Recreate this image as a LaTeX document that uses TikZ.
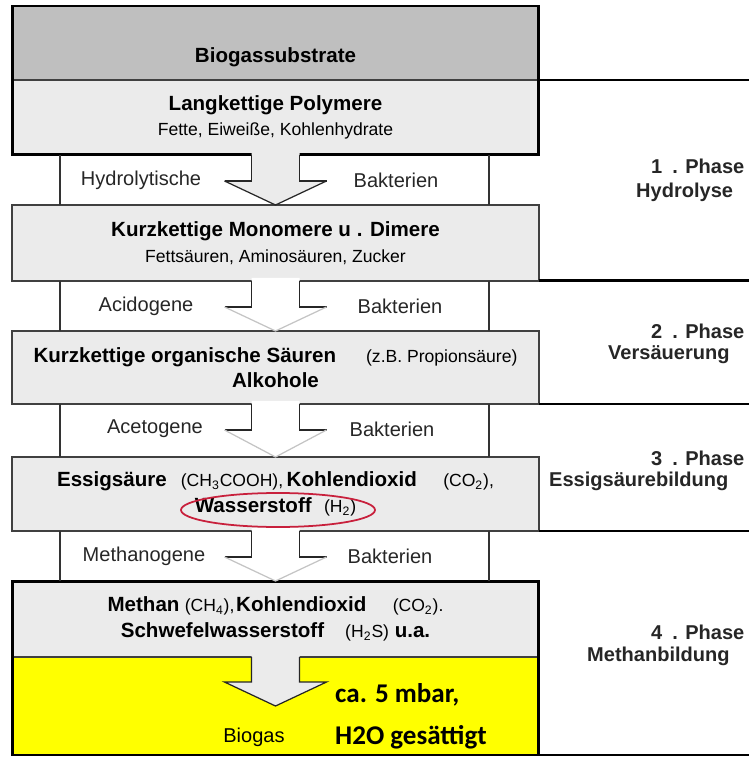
\documentclass[tikz,border=0pt]{standalone}
\usepackage{fontspec}
\setmainfont{Liberation Sans}
\newfontfamily\calfont{Carlito}
\usetikzlibrary{calc}

\definecolor{boxgrau}{HTML}{EBEBEB}
\definecolor{kopfgrau}{HTML}{BFBFBF}
\definecolor{spitzgrau}{HTML}{C4C4C4}
\definecolor{gelb}{HTML}{FFFF00}
\definecolor{ringrot}{HTML}{C8203C}

\newcommand{\gross}{\fontsize{11.7}{14.5}\selectfont\bfseries}
\newcommand{\klein}{\fontsize{10}{14.5}\selectfont\mdseries}

\begin{document}
\begin{tikzpicture}[x=0.02cm,y=-0.02cm,
  stufe/.style={draw=black!75,line width=0.7pt,fill=boxgrau,minimum width=10.54cm,
    inner sep=0pt,outer sep=0pt,align=center,font=\gross},
  rahmen/.style={draw=black,line width=1.7pt},
  bakt/.style={font=\fontsize{11.4}{13}\selectfont,text=black!85},
  phase/.style={font=\fontsize{11.4}{14.5}\selectfont\bfseries,text=black!85,anchor=west}]
  \useasboundingbox (0,0) rectangle (749,759);
  \coordinate (rand) at (749,0);

  % Stufen
  \node[stufe,fill=kopfgrau,minimum height=1.48cm] (subst) at (275.5,43) {};
  \node[font=\gross] (substtxt) at (275.5,57) {Biogassubstrate};
  \node[stufe,minimum height=1.5cm] (poly) at (275.5,117.5)
    {Langkettige Polymere\\\klein Fette, Eiweiße, Kohlenhydrate};
  \node[stufe,minimum height=1.52cm] (mono) at (275.5,243)
    {Kurzkettige Monomere u . Dimere\\\klein Fettsäuren, Aminosäuren, Zucker};
  \node[stufe,minimum height=1.46cm] (saeure) at (275.5,367.5)
    {Kurzkettige organische Säuren\hspace{17pt}\klein(z.B. Propionsäure)\\\gross Alkohole};
  \node[stufe,minimum height=1.48cm] (essig) at (275.5,494)
    {Essigsäure\hspace{8pt}\klein(CH\textsubscript{3}COOH),\gross\hspace{2pt}Kohlendioxid\hspace{15pt}\klein(CO\textsubscript{2}),\\
     \gross Wasserstoff\hspace{7pt}\klein(H\textsubscript{2})};
  \node[stufe,minimum height=1.52cm] (methan) at (275.5,619)
    {Methan\hspace{3pt}\klein(CH\textsubscript{4}),\gross\hspace{1pt}Kohlendioxid\hspace{15pt}\klein(CO\textsubscript{2}).\\
     \gross Schwefelwasserstoff\hspace{12pt}\klein(H\textsubscript{2}S)\gross\ u.a.};
  \node[stufe,fill=gelb,minimum height=1.96cm] (biogas) at (275.5,706) {};
  \draw[rahmen] (subst.north west) rectangle (poly.south east);
  \draw[rahmen] (methan.north west) rectangle (biogas.south east);

  % Pfeile mit Bakterien
  \foreach \o/\u/\f/\d/\lx/\lt/\rx in {poly/mono/boxgrau/black!85/141/Hydrolytische/396,
      mono/saeure/white/spitzgrau/146/Acidogene/400,
      saeure/essig/white/spitzgrau/155/Acetogene/392,
      essig/methan/white/spitzgrau/144/Methanogene/390}{
    \draw[line width=1pt,black!80] ($(\o.south west)+(48,0)$) -- ($(\u.north west)+(48,0)$);
    \draw[line width=0.8pt,black!80] ($(\o.south east)+(-50,0)$) -- ($(\u.north east)+(-50,0)$);
    \fill[\f] ($(\o.south)+(-24,-3)$) -- ($(\o.south)+(-24,26)$) -- ($(\o.south)+(-51,26)$) -- (\u.north)
      -- ($(\o.south)+(51,26)$) -- ($(\o.south)+(24,26)$) -- ($(\o.south)+(24,-3)$) -- cycle;
    \draw[black!85,line width=0.7pt] ($(\o.south)+(-24,0)$) -- ($(\o.south)+(-24,26)$) -- ($(\o.south)+(-51,26)$);
    \draw[black!85,line width=0.7pt] ($(\o.south)+(24,0)$) -- ($(\o.south)+(24,26)$) -- ($(\o.south)+(51,26)$);
    \draw[\d,line width=0.7pt] ($(\o.south)+(-51,26)$) -- (\u.north) -- ($(\o.south)+(51,26)$);
    \node[bakt] (links\o) at ($(\o.south)+(\lx-275.5,25)$) {\lt};
    \node[bakt] (rechts\o) at ($(\o.south)+(\rx-275.5,25)$) {Bakterien};
  }

  % Biogas
  \fill[boxgrau] ($(biogas.north)+(-24,-3)$) -- ($(biogas.north)+(-24,25)$) -- ($(biogas.north)+(-51,25)$)
    -- ($(biogas.north)+(0,49)$) -- ($(biogas.north)+(51,25)$) -- ($(biogas.north)+(24,25)$)
    -- ($(biogas.north)+(24,-3)$) -- cycle;
  \draw[black!85,line width=0.7pt] ($(biogas.north)+(-24,0)$) -- ($(biogas.north)+(-24,25)$) -- ($(biogas.north)+(-51,25)$)
    -- ($(biogas.north)+(0,49)$) -- ($(biogas.north)+(51,25)$) -- ($(biogas.north)+(24,25)$) -- ($(biogas.north)+(24,0)$);
  \node[bakt,text=black] (gastxt) at (254,737) {Biogas};
  \node[font=\calfont\bfseries\fontsize{15.4}{18}\selectfont,anchor=west] (druck) at (329,695) {ca. 5 mbar,};
  \node[font=\calfont\bfseries\fontsize{15.4}{18}\selectfont,anchor=west] (feucht) at (329,737) {H2O gesättigt};

  % Wasserstoff markiert
  \draw[ringrot,line width=1pt] (278,510) ellipse [x radius=97, y radius=17];

  % Phasen rechts
  \foreach \b in {poly.north east,mono.south east,saeure.south east,essig.south east}
    \draw[line width=1.7pt] (\b) -- (\b -| rand);
  \draw[line width=1.2pt] (biogas.south east) -- (biogas.south east -| rand);
  \node[phase] (ph1) at (645,166) {1\enspace. Phase};
  \node[phase] (ph1n) at (630,192) {Hydrolyse};
  \node[phase] (ph2) at (645,331) {2\enspace. Phase};
  \node[phase] (ph2n) at (602,355) {Versäuerung};
  \node[phase] (ph3) at (645,458) {3\enspace. Phase};
  \node[phase] (ph3n) at (543,481) {Essigsäurebildung};
  \node[phase] (ph4) at (645,632) {4\enspace. Phase};
  \node[phase] (ph4n) at (581,656) {Methanbildung};
\end{tikzpicture}
\end{document}
